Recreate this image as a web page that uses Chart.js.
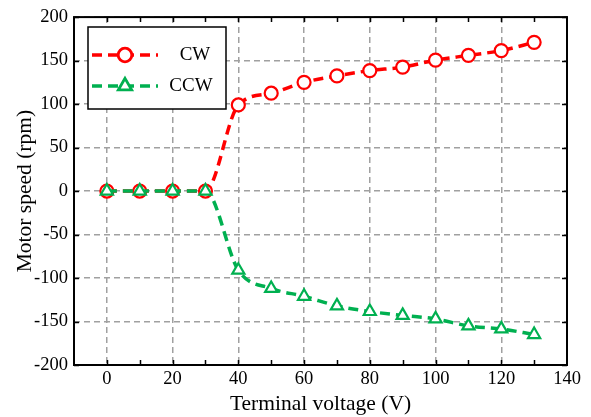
<!DOCTYPE html>
<html>
<head>
<meta charset="utf-8">
<script src="https://cdn.jsdelivr.net/npm/chart.js@4"></script>
<style>
  html, body { margin: 0; padding: 0; background: #fff; }
  #wrap { width: 591px; height: 417px; }
</style>
</head>
<body>
<div id="wrap"><canvas id="speedChart" width="591" height="417"></canvas></div>
<script>
const voltage = [0, 10, 20, 30, 40, 50, 60, 70, 80, 90, 100, 110, 120, 130];
const cwSpeed = [0, 0, 0, 0, 99, 112.5, 125, 132.5, 138.5, 142.5, 150.5, 156, 161.5, 171];
const ccwSpeed = [0, 0, 0, 0, -91, -112, -121, -132, -138.5, -143, -147, -155, -158.5, -165];
const xTicks = [0, 20, 40, 60, 80, 100, 120, 140];
const yTicks = [-200, -150, -100, -50, 0, 50, 100, 150, 200];

const RED = "#ff0000";
const GREEN = "#00b050";
const FONT = "'Liberation Serif', 'Times New Roman', serif";

// frame, inner ticks and the legend box drawn on top
const framePlugin = {
  id: "frame",
  afterDatasetsDraw(chart) {
    const { ctx, chartArea: a, scales } = chart;
    ctx.save();
    ctx.strokeStyle = "#000";
    ctx.lineWidth = 1.5;
    ctx.setLineDash([]);
    ctx.beginPath();
    for (let v = 0; v <= 130; v += 10) {
      const px = Math.round(scales.x.getPixelForValue(v)) + 0.5;
      ctx.moveTo(px, a.bottom); ctx.lineTo(px, a.bottom - 5);
      ctx.moveTo(px, a.top); ctx.lineTo(px, a.top + 5);
    }
    yTicks.forEach(v => {
      const py = Math.round(scales.y.getPixelForValue(v)) + 0.5;
      ctx.moveTo(a.right, py); ctx.lineTo(a.right - 5, py);
      ctx.moveTo(a.left, py); ctx.lineTo(a.left + 5, py);
    });
    ctx.stroke();
    ctx.lineWidth = 2;
    ctx.strokeRect(a.left, a.top, a.right - a.left, a.bottom - a.top);

    // legend
    const bx = 88, by = 27, bw = 138, bh = 82;
    ctx.fillStyle = "#fff";
    ctx.fillRect(bx, by, bw, bh);
    ctx.lineWidth = 1.5;
    ctx.strokeStyle = "#000";
    ctx.strokeRect(bx, by, bw, bh);
    const rows = [
      { ds: chart.data.datasets[0], y: 55, tx: 195 },
      { ds: chart.data.datasets[1], y: 86, tx: 191 }
    ];
    rows.forEach(r => {
      ctx.strokeStyle = r.ds.borderColor;
      ctx.lineWidth = 3.5;
      ctx.setLineDash([10, 6]);
      ctx.beginPath();
      ctx.moveTo(92, r.y); ctx.lineTo(158, r.y);
      ctx.stroke();
      ctx.setLineDash([]);
      Chart.helpers.drawPoint(ctx, {
        pointStyle: r.ds.pointStyle,
        radius: r.ds.pointRadius,
        borderWidth: r.ds.pointBorderWidth,
        rotation: 0
      }, 125, r.y);
      ctx.fillStyle = "#fff";
      ctx.lineWidth = r.ds.pointBorderWidth;
      ctx.fill();
      ctx.stroke();
      ctx.fillStyle = "#000";
      ctx.font = "19px " + FONT;
      ctx.textAlign = "center";
      ctx.textBaseline = "middle";
      ctx.fillText(r.ds.label, r.tx, r.y);
    });
    ctx.restore();
  }
};

new Chart(document.getElementById("speedChart"), {
  type: "line",
  data: {
    datasets: [
      {
        label: "CW",
        data: voltage.map((v, i) => ({ x: v, y: cwSpeed[i] })),
        borderColor: RED,
        borderWidth: 3.5,
        borderDash: [10, 6],
        pointStyle: "circle",
        pointRadius: 6.5,
        pointBorderWidth: 2.2,
        pointBackgroundColor: "#fff",
        pointBorderColor: RED,
        cubicInterpolationMode: "monotone",
        order: 1
      },
      {
        label: "CCW",
        data: voltage.map((v, i) => ({ x: v, y: ccwSpeed[i] })),
        borderColor: GREEN,
        borderWidth: 3.5,
        borderDash: [10, 6],
        pointStyle: "triangle",
        pointRadius: 7,
        pointBorderWidth: 2.2,
        pointBackgroundColor: "#fff",
        pointBorderColor: GREEN,
        cubicInterpolationMode: "monotone",
        order: 0
      }
    ]
  },
  options: {
    responsive: false,
    animation: false,
    layout: { padding: { left: 0, right: 24, top: 13, bottom: 0 } },
    plugins: { legend: { display: false }, tooltip: { enabled: false } },
    scales: {
      x: {
        type: "linear",
        min: -10,
        max: 140,
        afterBuildTicks: s => { s.ticks = xTicks.map(v => ({ value: v })); },
        afterFit: s => { s.height = 52; },
        grid: { color: "#a0a0a0", lineWidth: 1.5, drawTicks: false },
        border: { display: false, dash: [6, 4] },
        ticks: { padding: 3, color: "#000", font: { family: FONT, size: 18.5 } },
        title: { display: true, text: "Terminal voltage (V)", color: "#000", padding: { top: 0, bottom: 0 }, font: { family: FONT, size: 21.5 } }
      },
      y: {
        min: -200,
        max: 200,
        afterBuildTicks: s => { s.ticks = yTicks.map(v => ({ value: v })); },
        afterFit: s => { s.width = 74; },
        grid: { color: "#a0a0a0", lineWidth: 1.5, drawTicks: false },
        border: { display: false, dash: [6, 4] },
        ticks: { padding: 6, color: "#000", font: { family: FONT, size: 18.5 } },
        title: { display: true, text: "Motor speed (rpm)", color: "#000", padding: { top: 12, bottom: 0 }, font: { family: FONT, size: 21.5 } }
      }
    }
  },
  plugins: [framePlugin]
});
</script>
</body>
</html>
